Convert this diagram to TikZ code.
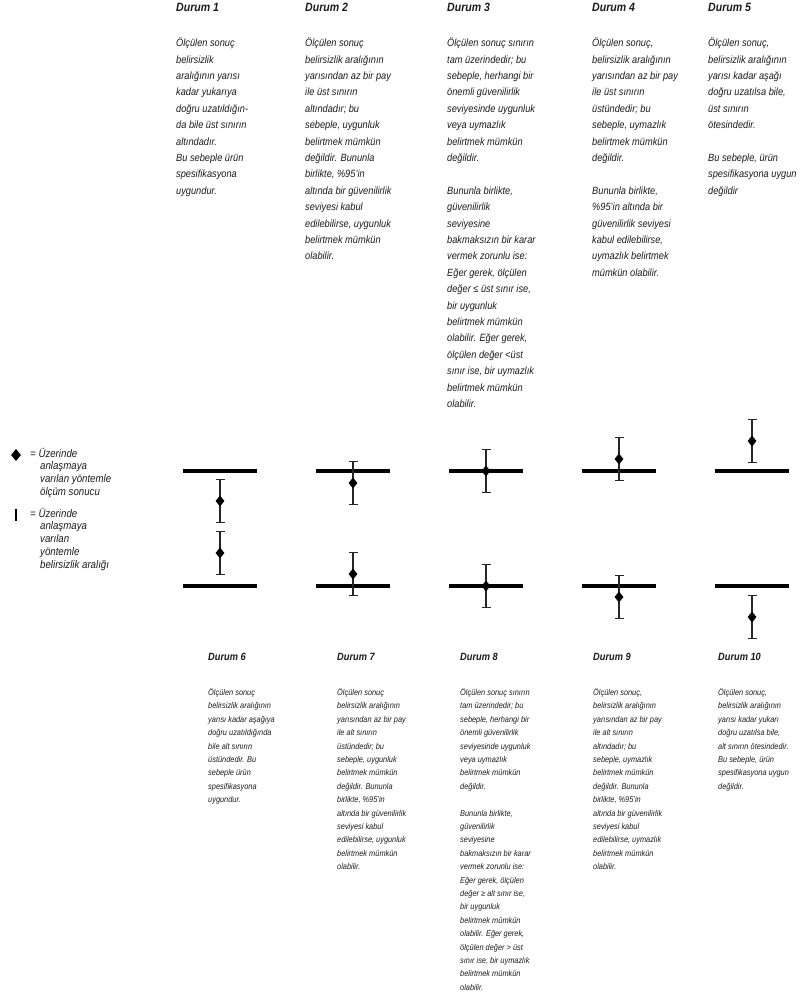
\documentclass[tikz,border=0pt]{standalone}
\usepackage{fontspec}
\setmainfont{Liberation Sans}[FakeStretch=0.88]
\usetikzlibrary{shapes.geometric}
\definecolor{ink}{HTML}{1A1A1A}
\tikzset{
  tophead/.style={anchor=north west, inner sep=0, align=left, text=ink, font=\fontsize{12}{14}\selectfont\bfseries\itshape},
  bothead/.style={anchor=north west, inner sep=0, align=left, text=ink, font=\fontsize{10.5}{12}\selectfont\bfseries\itshape},
  toptext/.style={anchor=north west, inner sep=0, align=left, text=ink, font=\fontsize{10.5}{16.4}\selectfont\itshape},
  bottext/.style={anchor=north west, inner sep=0, align=left, text=ink, font=\fontsize{8.4}{13.4}\selectfont\itshape},
  legtext/.style={anchor=north west, inner sep=0, align=left, text=ink, font=\fontsize{11}{13}\selectfont\itshape},
  limit/.style={line width=3.3pt, black},
  ebar/.style={line width=1.2pt, black!85},
  dmark/.style={shape=diamond, fill=black, draw=none, inner sep=0, minimum width=9pt, minimum height=11pt},
  legmark/.style={dmark, minimum width=10pt, minimum height=12pt},
}
\begin{document}
\begin{tikzpicture}[x=1pt,y=-1pt]
\useasboundingbox (0,0) rectangle (810,1003);
% ---------- top headings and texts ----------
\node[tophead] (h1) at (176,3) {Durum 1};
\node[tophead] (h2) at (305,3) {Durum 2};
\node[tophead] (h3) at (447,3) {Durum 3};
\node[tophead] (h4) at (592,3) {Durum 4};
\node[tophead] (h5) at (708,3) {Durum 5};
\node[toptext] (t1) at (176,35) {\strut Ölçülen sonuç\\belirsizlik\\aralığının yarısı\\kadar yukarıya\\doğru uzatıldığın-\\da bile üst sınırın\\altındadır.\\Bu sebeple ürün\\spesifikasyona\\uygundur.};
\node[toptext] (t2) at (305,35) {\strut Ölçülen sonuç\\belirsizlik aralığının\\yarısından az bir pay\\ile üst sınırın\\altındadır; bu\\sebeple, uygunluk\\belirtmek mümkün\\değildir. Bununla\\birlikte, \%95'in\\altında bir güvenilirlik\\seviyesi kabul\\edilebilirse, uygunluk\\belirtmek mümkün\\olabilir.};
\node[toptext] (t3) at (447,35) {\strut Ölçülen sonuç sınırın\\tam üzerindedir; bu\\sebeple, herhangi bir\\önemli güvenilirlik\\seviyesinde uygunluk\\veya uymazlık\\belirtmek mümkün\\değildir.\\[16.4pt]Bununla birlikte,\\güvenilirlik\\seviyesine\\bakmaksızın bir karar\\vermek zorunlu ise:\\Eğer gerek, ölçülen\\değer ≤ üst sınır ise,\\bir uygunluk\\belirtmek mümkün\\olabilir. Eğer gerek,\\ölçülen değer <üst\\sınır ise, bir uymazlık\\belirtmek mümkün\\olabilir.};
\node[toptext] (t4) at (592,35) {\strut Ölçülen sonuç,\\belirsizlik aralığının\\yarısından az bir pay\\ile üst sınırın\\üstündedir; bu\\sebeple, uymazlık\\belirtmek mümkün\\değildir.\\[16.4pt]Bununla birlikte,\\\%95'in altında bir\\güvenilirlik seviyesi\\kabul edilebilirse,\\uymazlık belirtmek\\mümkün olabilir.};
\node[toptext] (t5) at (708,35) {\strut Ölçülen sonuç,\\belirsizlik aralığının\\yarısı kadar aşağı\\doğru uzatılsa bile,\\üst sınırın\\ötesindedir.\\[16.4pt]Bu sebeple, ürün\\spesifikasyona uygun\\değildir};
% ---------- legend ----------
\node[legmark] (lm) at (16,455) {};
\node[legtext] (l1) at (30,448) {= Üzerinde};
\node[legtext] (l1b) at (40,461) {anlaşmaya\\varılan yöntemle\\ölçüm sonucu};
\coordinate (lbt) at (16,509);
\coordinate (lbb) at (16,521);
\draw[line width=1.3pt, black] (lbt) -- (lbb);
\node[legtext] (l2) at (30,508) {= Üzerinde};
\node[legtext] (l2b) at (40,521) {anlaşmaya\\varılan\\yöntemle\\belirsizlik aralığı};
% ---------- limits and measurement results ----------
\foreach \x/\ct/\cb [count=\i] in {220/30/-33, 353/12/-12, 486/0/0, 619/-12/11, 752/-30/31} {
  \coordinate (ul\i) at (\x-37,471);
  \coordinate (ur\i) at (\x+37,471);
  \coordinate (ll\i) at (\x-37,586);
  \coordinate (lr\i) at (\x+37,586);
  \draw[limit] (ul\i) -- (ur\i);
  \draw[limit] (ll\i) -- (lr\i);
  \coordinate (ua\i) at (\x,{471+\ct-21.5});
  \coordinate (ub\i) at (\x,{471+\ct+21.5});
  \coordinate (la\i) at (\x,{586+\cb-21.5});
  \coordinate (lb\i) at (\x,{586+\cb+21.5});
  \draw[ebar] (ua\i) -- (ub\i);
  \draw[ebar] ([xshift=-4.5pt]ua\i) -- ([xshift=4.5pt]ua\i);
  \draw[ebar] ([xshift=-4.5pt]ub\i) -- ([xshift=4.5pt]ub\i);
  \draw[ebar] (la\i) -- (lb\i);
  \draw[ebar] ([xshift=-4.5pt]la\i) -- ([xshift=4.5pt]la\i);
  \draw[ebar] ([xshift=-4.5pt]lb\i) -- ([xshift=4.5pt]lb\i);
  \node[dmark] (um\i) at (\x,{471+\ct}) {};
  \node[dmark] (lm\i) at (\x,{586+\cb}) {};
}
% ---------- bottom headings and texts ----------
\node[bothead] (h6) at (208,653) {Durum 6};
\node[bothead] (h7) at (337,653) {Durum 7};
\node[bothead] (h8) at (460,653) {Durum 8};
\node[bothead] (h9) at (593,653) {Durum 9};
\node[bothead] (h10) at (718,653) {Durum 10};
\node[bottext] (t6) at (208,686) {\strut Ölçülen sonuç\\belirsizlik aralığının\\yarısı kadar aşağıya\\doğru uzatıldığında\\bile alt sınırın\\üstündedir. Bu\\sebeple ürün\\spesifikasyona\\uygundur.};
\node[bottext] (t7) at (337,686) {\strut Ölçülen sonuç\\belirsizlik aralığının\\yarısından az bir pay\\ile alt sınırın\\üstündedir; bu\\sebeple, uygunluk\\belirtmek mümkün\\değildir. Bununla\\birlikte, \%95'in\\altında bir güvenilirlik\\seviyesi kabul\\edilebilirse, uygunluk\\belirtmek mümkün\\olabilir.};
\node[bottext] (t8) at (460,686) {\strut Ölçülen sonuç sınırın\\tam üzerindedir; bu\\sebeple, herhangi bir\\önemli güvenilirlik\\seviyesinde uygunluk\\veya uymazlık\\belirtmek mümkün\\değildir.\\[13.4pt]Bununla birlikte,\\güvenilirlik\\seviyesine\\bakmaksızın bir karar\\vermek zorunlu ise:\\Eğer gerek, ölçülen\\değer ≥ alt sınır ise,\\bir uygunluk\\belirtmek mümkün\\olabilir. Eğer gerek,\\ölçülen değer > üst\\sınır ise, bir uymazlık\\belirtmek mümkün\\olabilir.};
\node[bottext] (t9) at (593,686) {\strut Ölçülen sonuç,\\belirsizlik aralığının\\yarısından az bir pay\\ile alt sınırın\\altındadır; bu\\sebeple, uymazlık\\belirtmek mümkün\\değildir. Bununla\\birlikte, \%95'in\\altında bir güvenilirlik\\seviyesi kabul\\edilebilirse, uymazlık\\belirtmek mümkün\\olabilir.};
\node[bottext] (t10) at (718,686) {\strut Ölçülen sonuç,\\belirsizlik aralığının\\yarısı kadar yukarı\\doğru uzatılsa bile,\\alt sınırın ötesindedir.\\Bu sebeple, ürün\\spesifikasyona uygun\\değildir.};
\end{tikzpicture}
\end{document}
